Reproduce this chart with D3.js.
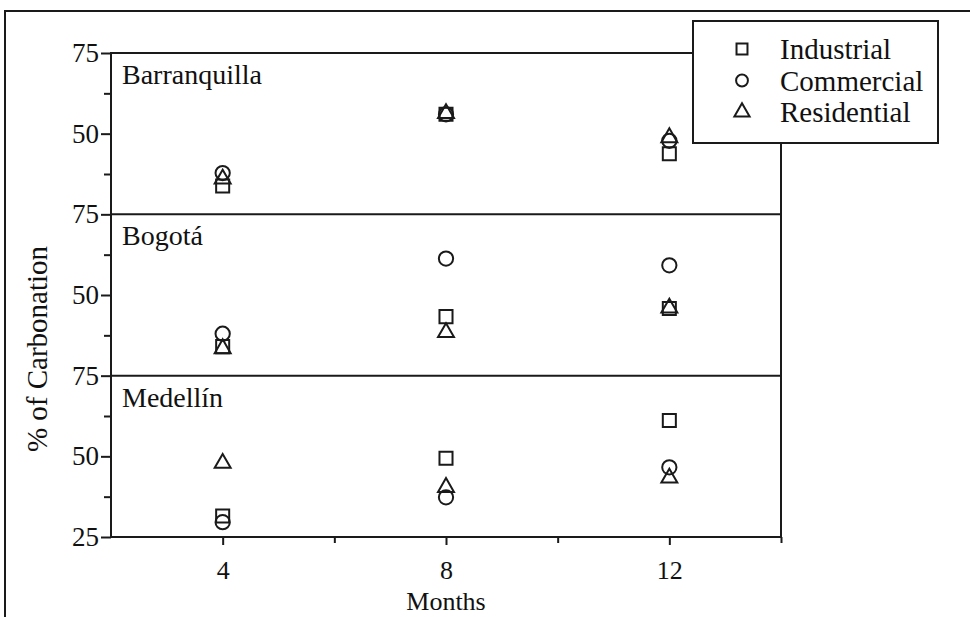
<!DOCTYPE html>
<html>
<head>
<meta charset="utf-8">
<script src="https://cdn.jsdelivr.net/npm/d3@7"></script>
<style>
  html, body { margin: 0; padding: 0; background: #fff; }
  svg { display: block; }
  text { font-family: "Liberation Serif", "Times New Roman", serif; fill: #111; }
</style>
</head>
<body>
<svg id="chart" width="970" height="617"></svg>
<script>
// ---- data ----
const months = [4, 8, 12];
const cities = ["Barranquilla", "Bogotá", "Medellín"];
const seriesNames = ["Industrial", "Commercial", "Residential"];
// values per city (rows) and month (columns)
const industrial  = [[33.8, 56.0, 43.8], [34.0, 43.3, 45.8], [31.5, 49.4, 61.1]];
const commercial  = [[37.8, 56.0, 47.8], [38.0, 61.3, 59.2], [29.6, 37.3, 46.6]];
const residential = [[36.0, 56.3, 48.8], [33.4, 38.4, 46.0], [47.9, 40.4, 43.3]];
const xTicksMajor = [4, 8, 12];
const xTicksMinor = [6, 10, 14];
const yTicksMajor = [50, 75];
const yTicksMinor = [37.5, 62.5];

(function () {
// ---- layout ----
const svg = d3.select("#chart");
const W = 970, H = 617;
const pLeft = 111, pRight = 781, pTop = 53, pBottom = 537;
const panelH = (pBottom - pTop) / cities.length;
const ink = "#1a1a1a";

svg.append("rect").attr("width", W).attr("height", H).attr("fill", "#fff");
// outer frame (only left and top visible)
svg.append("path").attr("d", `M5,${H + 5}V11H${W + 5}`)
  .attr("fill", "none").attr("stroke", ink).attr("stroke-width", 2);

const x = d3.scaleLinear().domain([2, 14]).range([pLeft, pRight]);

const symbols = [d3.symbolSquare, d3.symbolCircle, d3.symbolTriangle];
const sizes = [170, 160, 110];
const data = [industrial, commercial, residential];

cities.forEach((city, ci) => {
  const y0 = pTop + ci * panelH, y1 = y0 + panelH;
  const y = d3.scaleLinear().domain([25, 75]).range([y1, y0]);
  const g = svg.append("g");

  // major y axis
  const ticks = ci === cities.length - 1 ? [25].concat(yTicksMajor) : yTicksMajor;
  const ax = g.append("g").attr("transform", `translate(${pLeft},0)`)
    .call(d3.axisLeft(y).tickValues(ticks).tickSize(10).tickPadding(2).tickFormat(d3.format("d")));
  ax.select(".domain").remove();
  ax.selectAll("line").attr("stroke", ink).attr("stroke-width", 2);
  ax.selectAll("text").attr("font-size", 27).attr("font-family", "Liberation Serif").attr("fill", "#111");

  // minor y ticks
  const mx = g.append("g").attr("transform", `translate(${pLeft},0)`)
    .call(d3.axisLeft(y).tickValues(yTicksMinor).tickSize(7).tickFormat(""));
  mx.select(".domain").remove();
  mx.selectAll("line").attr("stroke", ink).attr("stroke-width", 2);

  // panel label
  g.append("text").attr("x", pLeft + 11).attr("y", y0 + 31)
    .attr("font-size", 28).text(city);

  // points
  data.forEach((series, si) => {
    g.selectAll(null).data(months.map((m, mi) => ({ m, v: series[ci][mi] })))
      .join("path")
      .attr("transform", d => `translate(${x(d.m)},${y(d.v)})`)
      .attr("d", d3.symbol().type(symbols[si]).size(sizes[si]))
      .attr("fill", "none").attr("stroke", ink).attr("stroke-width", 2);
  });
});

// panel frame and dividers
svg.append("rect").attr("x", pLeft).attr("y", pTop).attr("width", pRight - pLeft).attr("height", pBottom - pTop)
  .attr("fill", "none").attr("stroke", ink).attr("stroke-width", 2);
for (let i = 1; i < cities.length; i++) {
  svg.append("line").attr("x1", pLeft).attr("x2", pRight)
    .attr("y1", pTop + i * panelH).attr("y2", pTop + i * panelH)
    .attr("stroke", ink).attr("stroke-width", 2);
}

// x axis
const xa = svg.append("g").attr("transform", `translate(0,${pBottom})`)
  .call(d3.axisBottom(x).tickValues(xTicksMajor).tickSize(8).tickPadding(16).tickFormat(d3.format("d")));
xa.select(".domain").remove();
xa.selectAll("line").attr("stroke", ink).attr("stroke-width", 2);
xa.selectAll("text").attr("font-size", 26).attr("font-family", "Liberation Serif").attr("fill", "#111");
const xm = svg.append("g").attr("transform", `translate(0,${pBottom})`)
  .call(d3.axisBottom(x).tickValues(xTicksMinor).tickSize(6).tickFormat(""));
xm.select(".domain").remove();
xm.selectAll("line").attr("stroke", ink).attr("stroke-width", 2);

// axis titles
svg.append("text").attr("x", (x(4) + x(12)) / 2).attr("y", 610).attr("text-anchor", "middle")
  .attr("font-size", 26).text("Months");
svg.append("text").attr("transform", "translate(47,349) rotate(-90)").attr("text-anchor", "middle")
  .attr("font-size", 29).text("% of Carbonation");

// legend
const lg = svg.append("g");
lg.append("rect").attr("x", 693).attr("y", 21).attr("width", 245).attr("height", 122)
  .attr("fill", "#fff").attr("stroke", ink).attr("stroke-width", 2);
const legSizes = [120, 110, 100];
seriesNames.forEach((name, i) => {
  const cy = 49 + i * 31.5;
  lg.append("path").attr("transform", `translate(742,${cy})`)
    .attr("d", d3.symbol().type(symbols[i]).size(legSizes[i]))
    .attr("fill", "none").attr("stroke", ink).attr("stroke-width", 2);
  lg.append("text").attr("x", 780).attr("y", cy + 10).attr("font-size", 29).text(name);
});
})();
</script>
</body>
</html>
